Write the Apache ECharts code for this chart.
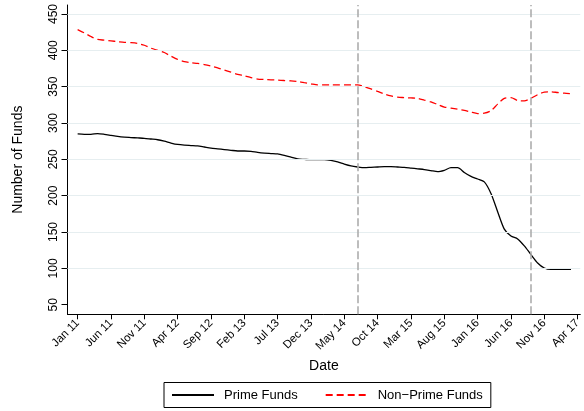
<!DOCTYPE html>
<html>
<head>
<meta charset="utf-8">
<script src="https://cdn.jsdelivr.net/npm/echarts@6/dist/echarts.min.js"></script>
<style>
  html, body { margin: 0; padding: 0; background: #fff; }
  #chart { width: 584px; height: 411px; }
</style>
</head>
<body>
<div id="chart"></div>
<script>
// Monthly fund counts, Jan 2011 (index 0) through Mar 2017 (index 74)
const primeFunds = [
  285, 284.5, 284.5, 285.5, 284.5, 283, 281.5, 280.5, 280, 279.5, 279, 278,
  277, 275, 272.5, 270.5, 269.5, 269, 268.5, 267, 265.5, 264.5, 263.5, 262.5,
  261.5, 261.5, 261, 259.5, 258.5, 258, 257.5, 255.5, 253, 250.5, 250, 249.5,
  249.5, 249.5, 248.5, 246.5, 243.5, 241, 239.5, 238.5, 239, 239.5, 240, 240,
  239.5, 239, 238, 237, 236, 234.5, 233, 235, 238.5, 238.5, 232, 226.5,
  223, 219, 203, 178, 154, 144.5, 140.5, 131, 119, 107.5, 100.5, 98.5,
  98.5, 98.5, 98.5
];
const nonPrimeFunds = [
  428.5, 424, 419, 415, 414, 413, 412, 411, 410.5, 409.5, 407, 403,
  400, 397, 392, 387.5, 384.5, 383, 382, 380.5, 378.5, 376, 373, 370,
  367, 365, 362.5, 360.5, 360, 359.5, 359, 358.5, 358, 357, 355.5, 354,
  352.5, 352.5, 352.5, 352.5, 352.5, 352.5, 352.5, 350, 347, 343.5, 340, 337.5,
  335.5, 335, 334.5, 334, 331.5, 329, 325.5, 322, 320.5, 319, 317.5, 315,
  313, 313.5, 317, 326, 334, 335, 331, 330.5, 334, 339, 342.5, 343,
  342, 341, 340.5
];

// Axis ticks (x ticks are month indices counted from Jan 2011)
const xTickMonths = [0, 5, 10, 15, 20, 25, 30, 35, 40, 45, 50, 55, 60, 65, 70, 75];
const xTickLabels = ['Jan 11', 'Jun 11', 'Nov 11', 'Apr 12', 'Sep 12', 'Feb 13', 'Jul 13', 'Dec 13',
                     'May 14', 'Oct 14', 'Mar 15', 'Aug 15', 'Jan 16', 'Jun 16', 'Nov 16', 'Apr 17'];
const yTicks = [50, 100, 150, 200, 250, 300, 350, 400, 450];

// Reference dates marked with vertical dashed lines: Jul 2014 and Sep 2016
const eventMonths = [42, 68];

const FONT = 'Liberation Sans, Arial, Helvetica, sans-serif';

const toPoints = arr => arr.map((v, i) => [i, v]);

const chart = echarts.init(document.getElementById('chart'), null, { renderer: 'canvas' });

chart.setOption({
  animation: false,
  backgroundColor: '#ffffff',
  textStyle: { fontFamily: FONT, color: '#000' },
  grid: { left: 67.5, right: 0, top: 5, bottom: 96.7, containLabel: false },
  xAxis: {
    type: 'value',
    min: -1.52,
    max: 75.4,
    name: 'Date',
    nameLocation: 'middle',
    nameGap: 44,
    nameTextStyle: { fontSize: 14, color: '#000', fontFamily: FONT },
    axisLine: { show: true, onZero: false, lineStyle: { color: '#000', width: 1 } },
    axisTick: { show: true, length: 5, customValues: xTickMonths, lineStyle: { color: '#000', width: 1 } },
    axisLabel: {
      customValues: xTickMonths,
      rotate: 45,
      margin: 7,
      fontSize: 11.5,
      color: '#000',
      fontFamily: FONT,
      formatter: v => xTickLabels[xTickMonths.indexOf(v)] || ''
    },
    splitLine: { show: false }
  },
  yAxis: {
    type: 'value',
    min: 36.8,
    max: 462.4,
    name: 'Number of Funds',
    nameLocation: 'middle',
    nameGap: 42,
    nameRotate: 90,
    nameTextStyle: { fontSize: 14, color: '#000', fontFamily: FONT },
    axisLine: { show: true, onZero: false, lineStyle: { color: '#000', width: 1 } },
    axisTick: { show: true, length: 6, customValues: yTicks, lineStyle: { color: '#000', width: 1 } },
    axisLabel: {
      customValues: yTicks,
      rotate: 90,
      margin: 8,
      fontSize: 12,
      color: '#000',
      fontFamily: FONT
    },
    splitLine: { show: false }
  },
  legend: {
    data: ['Prime Funds', 'Non\u2212Prime Funds'],
    left: 164,
    top: 382.5,
    orient: 'horizontal',
    backgroundColor: '#fff',
    borderColor: '#000',
    borderWidth: 1,
    borderRadius: 0,
    padding: [6, 8, 6, 7],
    itemWidth: 42,
    itemHeight: 14,
    itemGap: 27,
    // hide the marker dot so only the line sample shows
    itemStyle: { color: 'rgba(0,0,0,0)', borderWidth: 0, opacity: 0 },
    textStyle: { fontSize: 13, color: '#000', fontFamily: FONT, padding: [0, 0, 0, 5] }
  },
  series: [
    {
      // light horizontal gridlines and the two dashed event markers
      name: 'guides',
      type: 'line',
      data: [],
      silent: true,
      z: 1,
      markLine: {
        silent: true,
        symbol: 'none',
        label: { show: false },
        emphasis: { disabled: true },
        data: [
          ...yTicks.filter(v => v > 50).map(v => ({
            yAxis: v,
            lineStyle: { color: '#e6eef0', width: 1.2, type: 'solid' }
          })),
          ...eventMonths.map(m => ({
            xAxis: m,
            lineStyle: { color: '#adadad', width: 1.6, type: [8, 3] }
          }))
        ]
      }
    },
    {
      name: 'Prime Funds',
      type: 'line',
      data: toPoints(primeFunds),
      symbol: 'none',
      smooth: 0.25,
      z: 3,
      lineStyle: { color: '#000', width: 1.3, type: 'solid' },
      itemStyle: { color: '#000' }
    },
    {
      name: 'Non\u2212Prime Funds',
      type: 'line',
      data: toPoints(nonPrimeFunds),
      symbol: 'none',
      smooth: 0.25,
      z: 3,
      lineStyle: { color: '#ff0000', width: 1.3, type: [7, 4] },
      itemStyle: { color: '#ff0000' }
    }
  ]
});
</script>
</body>
</html>
